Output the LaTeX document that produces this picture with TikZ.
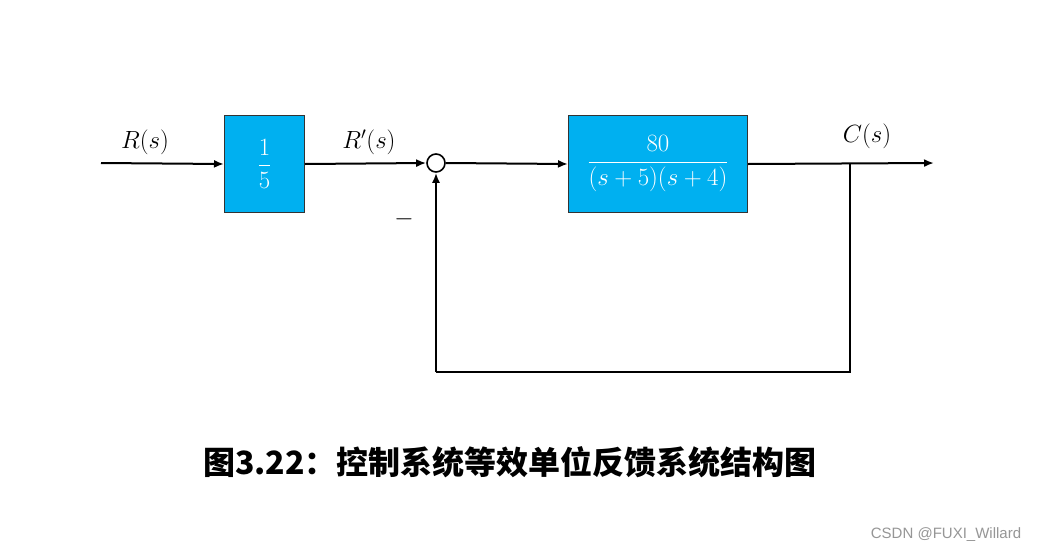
\documentclass[tikz,border=0pt]{standalone}
\usepackage{fontspec}
\usepackage{amsmath}
\usetikzlibrary{arrows.meta}
\newfontfamily\cjk{Noto Sans CJK SC}
\newfontfamily\wmfont{Liberation Sans}
\definecolor{boxblue}{RGB}{0,176,240}
\definecolor{wmgray}{RGB}{150,150,150}
\tikzset{
  blockbox/.style={draw=black!80, line width=1pt, fill=boxblue, anchor=north west, inner sep=0pt},
  conn/.style={line width=2pt, -{Latex[length=10pt,width=8pt]}},
  plainline/.style={line width=2pt},
  sumjunction/.style={circle, draw, line width=1.6pt, minimum size=18pt, inner sep=0pt, fill=white},
  sig/.style={font=\fontsize{23}{27}\selectfont},
  boxtext/.style={text=white, font=\fontsize{24}{28}\selectfont}
}
\begin{document}
\begin{tikzpicture}[x=1pt,y=-1pt]
\useasboundingbox (0,0) rectangle (1040,554);
\fill[white] (0,0) rectangle (1040,554);
% blocks
\node[blockbox, minimum width=80pt, minimum height=97pt] (b1) at (224,115) {};
\node[boxtext] at (b1.center) {$\dfrac{1}{5}$};
\node[blockbox, minimum width=179pt, minimum height=97pt] (b2) at (568,115) {};
\node[boxtext] at (b2.center) {$\dfrac{80}{(s+5)(s+4)}$};
% summing junction
\node[sumjunction] (sum) at (436,163) {};
% coordinates
\coordinate (in) at (101,163);
\coordinate (out) at (934,163);
\coordinate (tap) at (850,163);
\coordinate (br) at (850,372);
\coordinate (bl) at (436,372);
% connectors
\draw[conn] (in) -- (b1.west);
\draw[conn] (b1.east) -- (sum.west);
\draw[conn] (sum.east) -- (b2.west);
\draw[conn] (b2.east) -- (out);
\draw[plainline] (tap) -- (br) -- (bl);
\draw[conn] (bl) -- (sum.south);
% labels
\node[sig] (lr) at (145,142) {$R(s)$};
\node[sig] (lrp) at (369,142) {$R'(s)$};
\node[sig] (lc) at (867,136) {$C(s)$};
\node[sig] (minus) at (404,219) {$-$};
% caption
\node[font=\cjk\bfseries\fontsize{32}{38}\selectfont] (cap) at (510,462) {图3.22：控制系统等效单位反馈系统结构图};
\node[font=\wmfont\fontsize{15}{18}\selectfont, text=wmgray] (wm) at (946,535) {CSDN @FUXI\_Willard};
\end{tikzpicture}
\end{document}
